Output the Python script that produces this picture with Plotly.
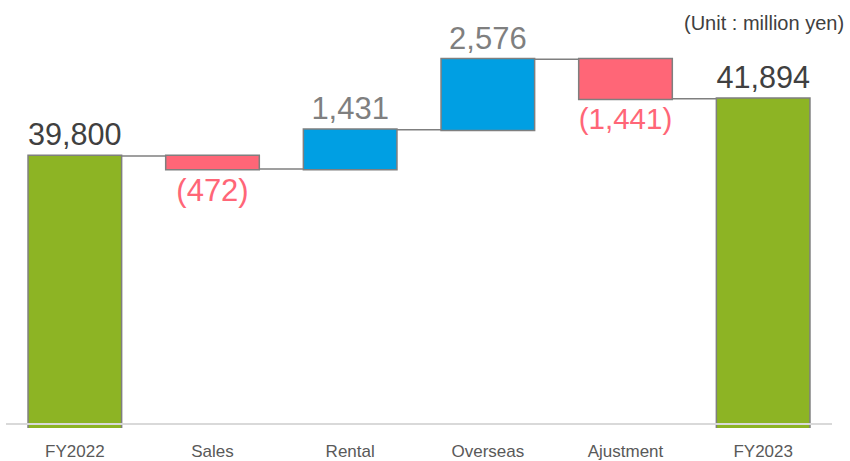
import plotly.graph_objects as go

categories = ["FY2022", "Sales", "Rental", "Overseas", "Ajustment", "FY2023"]
values = [39800, -472, 1431, 2576, -1441, 41894]
measures = ["absolute", "relative", "relative", "relative", "relative", "total"]
unit_label = "(Unit : million yen)"

def fmt(v, m):
    if m == "relative" and v < 0:
        return "({:,})".format(-v)
    return "{:,}".format(v)

texts = [fmt(v, m) for v, m in zip(values, measures)]
text_colors = []
for v, m in zip(values, measures):
    if m != "relative":
        text_colors.append("#404040")
    elif v < 0:
        text_colors.append("#ff6677")
    else:
        text_colors.append("#7f7f7f")

fig = go.Figure(go.Waterfall(
    x=categories,
    y=values,
    measure=measures,
    text=texts,
    textposition="outside",
    textfont=dict(size=31, color=text_colors, family="Liberation Sans, Arial, sans-serif"),
    cliponaxis=False,
    increasing=dict(marker=dict(color="#009fe3", line=dict(color="#7f7f7f", width=1.5))),
    decreasing=dict(marker=dict(color="#ff6677", line=dict(color="#7f7f7f", width=1.5))),
    totals=dict(marker=dict(color="#8db424", line=dict(color="#7f7f7f", width=1.5))),
    connector=dict(line=dict(color="#7f7f7f", width=1.5), mode="between"),
    hoverinfo="skip",
))

fig.update_layout(
    width=850, height=461,
    margin=dict(l=6, r=18, t=10, b=33),
    paper_bgcolor="white", plot_bgcolor="white",
    showlegend=False,
    waterfallgap=0.32,
    font=dict(family="Liberation Sans, Arial, sans-serif"),
    xaxis=dict(
        showgrid=False, showline=False, zeroline=False, automargin=False,
        ticks="", tickfont=dict(size=17, color="#595959"),
        ticklabelstandoff=11,
    ),
    yaxis=dict(visible=False, automargin=False, range=[29854, 45137]),
    shapes=[dict(type="line", xref="paper", yref="y", x0=0, x1=1, y0=30000, y1=30000,
                 line=dict(color="#d9d9d9", width=2), layer="above")],
    annotations=[dict(text=unit_label, xref="paper", yref="paper", x=1.017, y=1.0,
                      xanchor="right", yanchor="top", showarrow=False,
                      font=dict(size=20, color="#404040"))],
)

fig.write_html("out.html", config={"displayModeBar": False},
               post_script="document.body.style.margin='0';document.body.style.overflow='hidden';")
